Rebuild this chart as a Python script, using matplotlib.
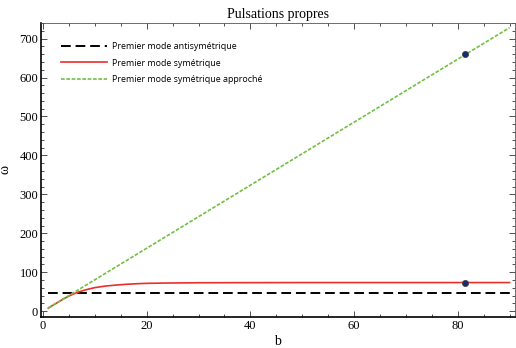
import matplotlib
matplotlib.use("Agg")
import matplotlib.pyplot as plt
from matplotlib.ticker import MultipleLocator

# donnees
b_sym = [1, 2, 3, 4, 5, 6, 7, 8, 9, 10, 12, 14, 16, 18, 20, 25, 30, 40, 50, 60, 70, 80, 90]
w_sym = [8, 16, 24, 32, 39, 45, 50, 54, 57.5, 60.5, 64.5, 67, 69, 70.5, 71.5, 72.5, 73, 73.3, 73.5, 73.5, 73.5, 73.5, 73.5]
b_anti = [1, 90]
w_anti = [46, 46]
b_appr = [1, 90]
w_appr = [8, 728]
b_pts = [81.5, 81.5]
w_pts = [660, 73.5]

labels = ['Premier mode antisymétrique', 'Premier mode symétrique',
          'Premier mode symétrique approché']

fig = plt.figure(figsize=(5.16, 3.48), dpi=100)
ax = fig.add_axes([0.0795, 0.089, 0.918, 0.846])

ax.plot(b_anti, w_anti, color='black', lw=1.4, dashes=(5, 2.5), label=labels[0])
ax.plot(b_sym, w_sym, color='#e8302c', lw=1.2, label=labels[1])
ax.plot(b_appr, w_appr, color='#72c043', lw=1.2, dashes=(2.2, 1), label=labels[2])
ax.plot(b_pts, w_pts, 'o', color='#1c2a6e', ms=4.5, mec='#444444', mew=0.5)

ax.set_xlim(-0.4, 91)
ax.set_ylim(-15, 741)
ax.xaxis.set_major_locator(MultipleLocator(20))
ax.xaxis.set_minor_locator(MultipleLocator(5))
ax.yaxis.set_major_locator(MultipleLocator(100))
ax.yaxis.set_minor_locator(MultipleLocator(20))
ax.tick_params(which='both', direction='in', top=True, right=True,
               labelsize=9, width=0.6, colors='#333333', labelcolor='black')
ax.tick_params(which='major', length=4, pad=2)
ax.tick_params(which='minor', length=2)
for lab in ax.get_xticklabels() + ax.get_yticklabels():
    lab.set_family('Liberation Serif')
for s in ax.spines.values():
    s.set_linewidth(0.6)
    s.set_color('#555555')
ax.spines['bottom'].set_linewidth(1.2)
ax.spines['bottom'].set_color('black')
ax.spines['left'].set_linewidth(1.2)
ax.spines['left'].set_color('black')

ax.set_title('Pulsations propres', family='Liberation Serif', fontsize=10, pad=3)
ax.set_xlabel('b', family='Liberation Serif', fontsize=10, labelpad=2)
ax.set_ylabel('ω', family='Liberation Serif', fontsize=10)
ax.yaxis.set_label_coords(-0.062, 0.5)

ax.legend(loc='upper left', bbox_to_anchor=(0.025, 0.96), frameon=False,
          prop={'family': 'Open Sans', 'size': 6.4}, handlelength=5.2,
          handletextpad=0.6, labelspacing=0.8)

fig.savefig('out.png', dpi=100)
